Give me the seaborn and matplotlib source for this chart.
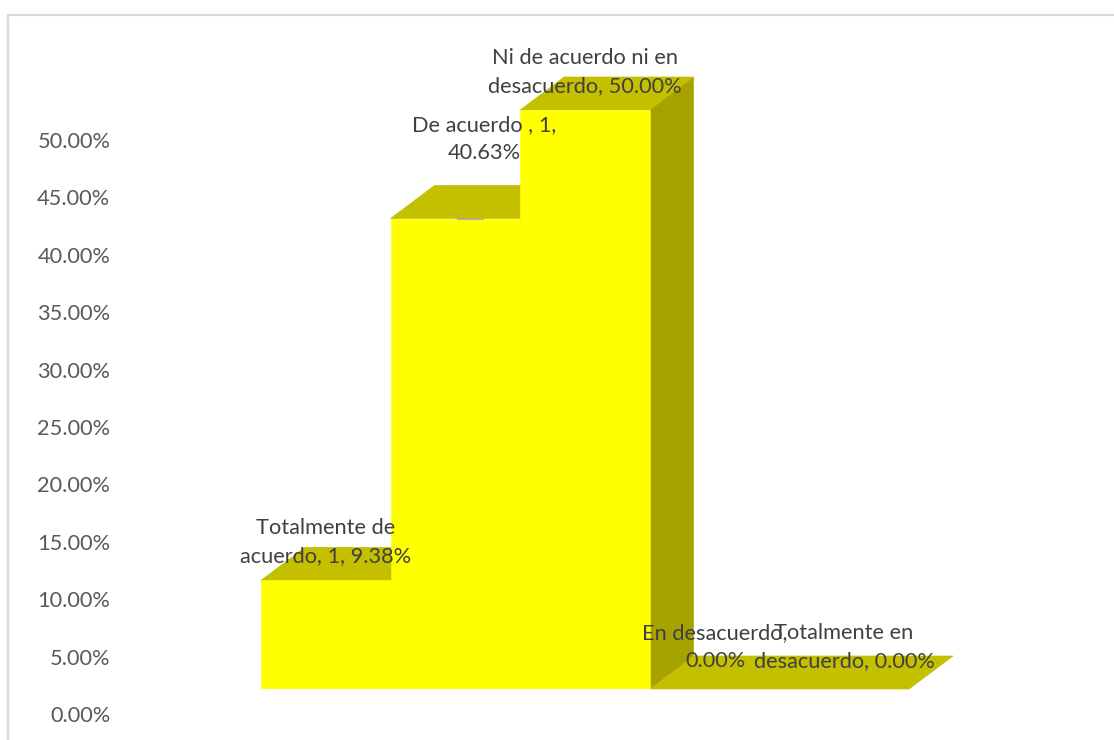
import matplotlib
matplotlib.use("Agg")
import matplotlib.pyplot as plt
from matplotlib.lines import Line2D
from matplotlib.patches import Polygon
import pandas as pd
import seaborn as sns

categories = ["Totalmente de acuerdo", "De acuerdo", "Ni de acuerdo ni en desacuerdo",
              "En desacuerdo", "Totalmente en desacuerdo"]
values = [9.38, 40.63, 50.00, 0.00, 0.00]
labels = ["Totalmente de\nacuerdo, 1, 9.38%", "De acuerdo , 1,\n40.63%",
          "Ni de acuerdo ni en\ndesacuerdo, 50.00%", "En desacuerdo,\n0.00%",
          "Totalmente en\ndesacuerdo, 0.00%"]
tick_values = [0, 5, 10, 15, 20, 25, 30, 35, 40, 45, 50]

W, H = 1114, 740
FS = 15.7
sns.set_theme(style="white")
plt.rcParams["font.family"] = ["Lato", "DejaVu Sans"]
fig = plt.figure(figsize=(W / 100, H / 100), dpi=100, facecolor="white")

def px_axes(x0, x1, y_top, y_bottom):
    return fig.add_axes([x0 / W, 1 - y_bottom / H, (x1 - x0) / W, (y_bottom - y_top) / H])

# value axis (its scale sits lower than the bar floor, as in the oblique 3-D view)
ax_t = px_axes(120, 1000, 140, 714)
ax_t.set_ylim(0, 50)
ax_t.set_xticks([])
ax_t.set_yticks(tick_values)
ax_t.set_yticklabels([f"{t:.2f}%" for t in tick_values], fontsize=FS, color="#595959")
ax_t.tick_params(axis="y", length=0, pad=7)
ax_t.patch.set_alpha(0)
sns.despine(ax=ax_t, left=True, bottom=True)

# bars
PX_PER_CAT = 129.6
PX_PER_VAL = 11.58
ax = px_axes(261, 909, 30, 689)
ax.patch.set_alpha(0)
df = pd.DataFrame({"cat": categories, "val": values})
sns.barplot(data=df, x="cat", y="val", color="#FFFF00", saturation=1, width=1.0, ax=ax,
            zorder=3, linewidth=0, edgecolor="#FFFF00")
for bar in ax.patches:
    bar.set_edgecolor("#FFFF00")
    bar.set_linewidth(0.4 if bar.get_height() > 0 else 0)
ax.set_xlim(-0.5, 4.5)
ax.set_ylim(0, (689 - 30) / PX_PER_VAL)
ax.set_xlabel("")
ax.set_ylabel("")
ax.set_xticks([])
ax.set_yticks([])
sns.despine(ax=ax, left=True, bottom=True)

dx = 44 / PX_PER_CAT
dy = 33 / PX_PER_VAL
TOP, SIDE = "#C4C000", "#A6A300"
for i, v in enumerate(values):
    l, r = i - 0.5, i + 0.5
    ax.add_patch(Polygon([(l, v), (r, v), (r + dx, v + dy), (l + dx, v + dy)],
                         facecolor=TOP, edgecolor=TOP, lw=0.5, zorder=1, clip_on=False))
    if v > 0:
        ax.add_patch(Polygon([(r, 0), (r + dx, dy), (r + dx, v + dy), (r, v)],
                             facecolor=SIDE, edgecolor="none", zorder=2, clip_on=False))

# small leader mark on the second bar
ax.plot([1.01, 1.22], [values[1], values[1]], color="#A6A6A6", lw=1.2, zorder=4,
        solid_capstyle="butt")

# data labels
centers = [(326, 542), (484, 139), (585, 72), (715, 647), (844, 647)]
for (cx, cy), txt in zip(centers, labels):
    fig.text(cx / W, 1 - cy / H, txt, ha="center", va="center", fontsize=FS,
             color="#404040", linespacing=1.55, zorder=10)

# chart frame
for xs, ys in [((7.5, 7.5), (740, 15)), ((7.5, 1114), (15, 15))]:
    fig.add_artist(Line2D([x / W for x in xs], [1 - y / H for y in ys], color="#D9D9D9", lw=1.6))

fig.savefig("out.png", dpi=100, facecolor="white")
